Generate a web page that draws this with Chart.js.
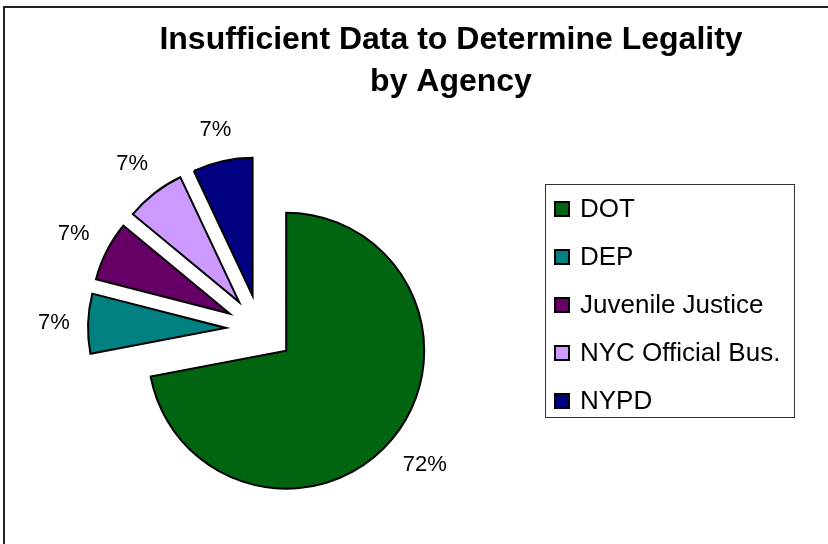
<!DOCTYPE html>
<html>
<head>
<meta charset="utf-8">
<title>Insufficient Data to Determine Legality by Agency</title>
<script src="https://cdn.jsdelivr.net/npm/chart.js@4.4.1/dist/chart.umd.min.js"></script>
<style>
  html, body { margin: 0; padding: 0; background: #fff; }
  #chart { display: block; }
</style>
</head>
<body>
<canvas id="chart" width="828" height="544"></canvas>
<script>
// data
const agencies = ['DOT', 'DEP', 'Juvenile Justice', 'NYC Official Bus.', 'NYPD'];
const shares = [72, 7, 7, 7, 7];
const sliceColors = ['#006411', '#008080', '#660066', '#CC99FF', '#000080'];
const titleLines = ['Insufficient Data to Determine Legality', 'by Agency'];

const FONT = '"Liberation Sans", Arial, sans-serif';
const EXPLODE = 34;     // every slice is pulled out by the same distance
const LABEL_GAP = 18;   // space between the rim and the nearest side of a % label

// draws each arc shifted outwards along its middle angle
const explodePlugin = {
    id: 'explode',
    beforeDatasetDraw(chart, args) {
        const ctx = chart.ctx;
        args.meta.data.forEach(arc => {
            const mid = (arc.startAngle + arc.endAngle) / 2;
            ctx.save();
            ctx.translate(Math.cos(mid) * EXPLODE, Math.sin(mid) * EXPLODE);
            arc.draw(ctx);
            ctx.restore();
        });
        return false;
    }
};

// frame, title, legend box and percentage labels
const decorPlugin = {
    id: 'decor',
    afterDraw(chart) {
        const ctx = chart.ctx;
        ctx.save();

        // outer frame (only top and left edges fall inside the picture)
        ctx.strokeStyle = '#222';
        ctx.lineWidth = 2;
        ctx.beginPath();
        ctx.moveTo(4, 544);
        ctx.lineTo(4, 7);
        ctx.lineTo(828, 7);
        ctx.stroke();

        // title
        ctx.fillStyle = '#000';
        ctx.font = 'bold 32px ' + FONT;
        ctx.textAlign = 'center';
        ctx.textBaseline = 'alphabetic';
        ctx.fillText(titleLines[0], 451, 49);
        ctx.fillText(titleLines[1], 451, 91);

        // percentage labels, placed just outside each exploded slice
        ctx.font = '22px ' + FONT;
        ctx.textBaseline = 'middle';
        chart.getDatasetMeta(0).data.forEach((arc, i) => {
            const text = shares[i] + '%';
            const mid = (arc.startAngle + arc.endAngle) / 2;
            const cx = Math.cos(mid), cy = Math.sin(mid);
            const half = Math.abs(cx) * ctx.measureText(text).width / 2 + Math.abs(cy) * 11;
            const d = EXPLODE + arc.outerRadius + LABEL_GAP + half;
            ctx.fillText(text, arc.x + cx * d, arc.y + cy * d);
        });

        // legend
        ctx.strokeStyle = '#333';
        ctx.lineWidth = 1;
        ctx.strokeRect(545.5, 184.5, 249, 233);
        ctx.font = '26px ' + FONT;
        ctx.textAlign = 'left';
        ctx.textBaseline = 'alphabetic';
        agencies.forEach((name, i) => {
            const base = 217 + i * 48;
            ctx.fillStyle = sliceColors[i];
            ctx.fillRect(555, base - 15, 14, 14);
            ctx.strokeStyle = '#000';
            ctx.lineWidth = 2;
            ctx.strokeRect(555, base - 15, 14, 14);
            ctx.fillStyle = '#000';
            ctx.fillText(name, 580, base);
        });

        ctx.restore();
    }
};

new Chart(document.getElementById('chart'), {
    type: 'pie',
    data: {
        labels: agencies,
        datasets: [{
            data: shares,
            backgroundColor: sliceColors,
            borderColor: '#000',
            borderWidth: 2,
            borderJoinStyle: 'miter'
        }]
    },
    options: {
        responsive: false,
        animation: false,
        radius: 138,
        layout: {
            padding: { left: 60, right: 368, top: 150, bottom: 36 }
        },
        plugins: {
            legend: { display: false },
            title: { display: false },
            tooltip: { enabled: false }
        }
    },
    plugins: [explodePlugin, decorPlugin]
});
</script>
</body>
</html>
